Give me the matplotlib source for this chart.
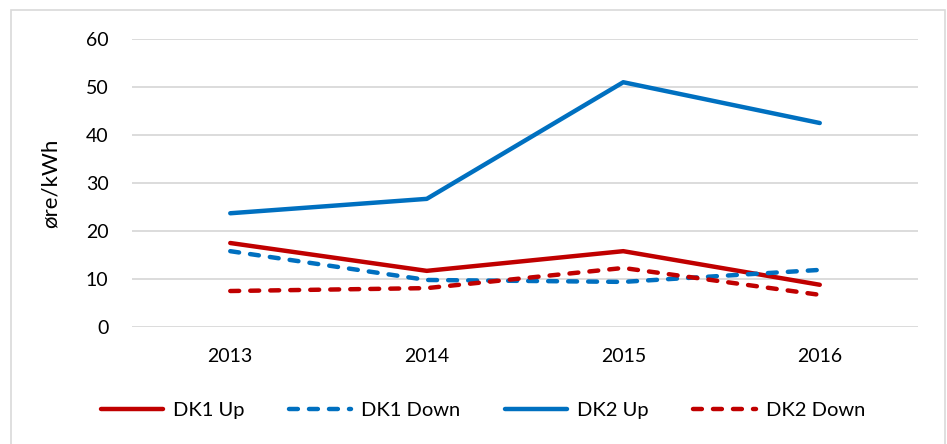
import matplotlib.pyplot as plt
from matplotlib.patches import Rectangle

years = ["2013", "2014", "2015", "2016"]
dk1_up = [17.5, 11.7, 15.8, 8.8]
dk1_down = [15.8, 9.8, 9.4, 11.9]
dk2_up = [23.7, 26.7, 51.0, 42.5]
dk2_down = [7.5, 8.1, 12.3, 6.7]

red = "#C00000"
blue = "#0070C0"

plt.rcParams["font.family"] = ["Lato", "DejaVu Sans"]

fig = plt.figure(figsize=(9.47, 4.44), dpi=100)
ax = fig.add_axes([0.1394, 0.2635, 0.830, 0.6486])

x = range(len(years))
dash = (0, (2.0, 2.5))
ax.plot(x, dk1_up, color=red, lw=3.2, solid_capstyle="round", label="DK1 Up")
ax.plot(x, dk1_down, color=blue, lw=3.2, linestyle=dash, dash_capstyle="round", label="DK1 Down")
ax.plot(x, dk2_up, color=blue, lw=3.2, solid_capstyle="round", label="DK2 Up")
ax.plot(x, dk2_down, color=red, lw=3.2, linestyle=dash, dash_capstyle="round", label="DK2 Down")

ax.set_xlim(-0.5, 3.5)
ax.set_ylim(0, 60)
ax.set_yticks(range(0, 61, 10))
ax.set_xticks(list(x))
ax.set_xticklabels(years)
ax.grid(axis="y", color="#D9D9D9", lw=1.3)
ax.set_axisbelow(True)
for s in ax.spines.values():
    s.set_visible(False)
ax.tick_params(length=0, labelsize=14, colors="#000000")
ax.tick_params(axis="x", pad=15)
ax.tick_params(axis="y", pad=17)
ax.set_ylabel("øre/kWh", fontsize=16, labelpad=18)

ax.legend(loc="center", bbox_to_anchor=(0.51, 0.075), bbox_transform=fig.transFigure,
          ncol=4, frameon=False, fontsize=14.5, handlelength=3.1, columnspacing=2.2,
          handletextpad=0.5)

# light outer frame
fig.patches.append(Rectangle((11 / 947, -0.01), 934 / 947, 1 - 10 / 444 + 0.01,
                             transform=fig.transFigure, fill=False,
                             edgecolor="#D9D9D9", lw=1.2))

fig.savefig("out.png", dpi=100)
